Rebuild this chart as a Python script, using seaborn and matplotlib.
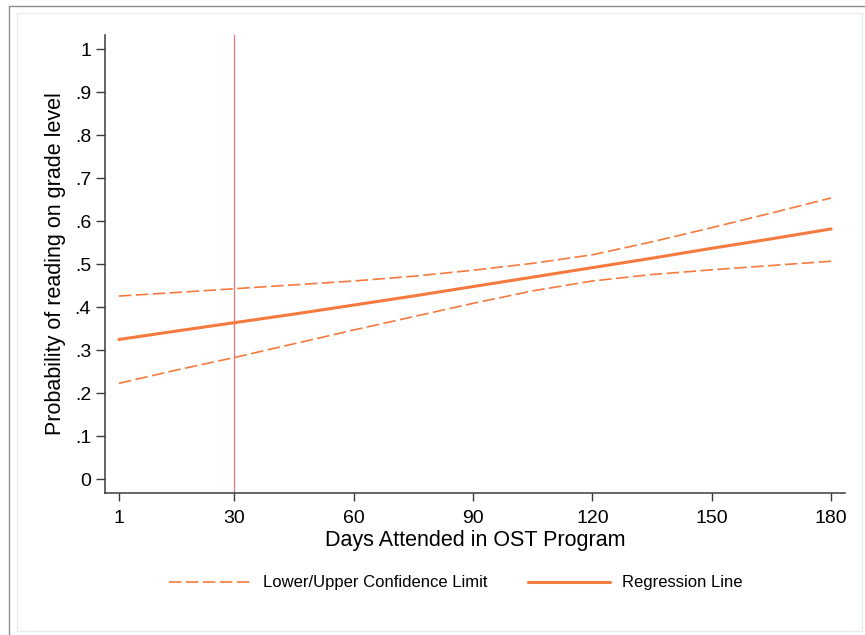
import pandas as pd
import seaborn as sns
import matplotlib.pyplot as plt
from matplotlib.lines import Line2D
from matplotlib.patches import Rectangle

# values
days = [1, 15, 30, 45, 60, 75, 90, 105, 120, 135, 150, 165, 180]
regression = [0.325, 0.344, 0.364, 0.384, 0.405, 0.426, 0.448, 0.470, 0.492, 0.514, 0.537, 0.559, 0.582]
upper_ci = [0.426, 0.434, 0.443, 0.452, 0.461, 0.472, 0.486, 0.502, 0.522, 0.552, 0.585, 0.619, 0.654]
lower_ci = [0.223, 0.253, 0.283, 0.315, 0.347, 0.378, 0.409, 0.438, 0.461, 0.476, 0.487, 0.497, 0.507]
cutoff_day = 30

x_ticks = [1, 30, 60, 90, 120, 150, 180]
y_ticks = [0, 0.1, 0.2, 0.3, 0.4, 0.5, 0.6, 0.7, 0.8, 0.9, 1.0]
y_tick_labels = ["0", ".1", ".2", ".3", ".4", ".5", ".6", ".7", ".8", ".9", "1"]

df = pd.DataFrame({"days": days, "reg": regression, "upper": upper_ci, "lower": lower_ci})

sns.set_style("white")
plt.rcParams['font.family'] = ['Liberation Sans', 'DejaVu Sans']
plt.rcParams['lines.scale_dashes'] = False
plt.rcParams['text.color'] = 'black'
plt.rcParams['axes.labelcolor'] = 'black'
plt.rcParams['xtick.color'] = 'black'
plt.rcParams['ytick.color'] = 'black'

orange = "#F57A3D"
axis_col = "#3a3a3a"
dash = (9, 3.2)

fig = plt.figure(figsize=(8.65, 6.35), dpi=100)
ax = fig.add_axes([105 / 865, 1 - 493 / 635, 740 / 865, 458 / 635])

sns.lineplot(data=df, x="days", y="upper", ax=ax, color=orange, lw=1.2, dashes=False)
sns.lineplot(data=df, x="days", y="lower", ax=ax, color=orange, lw=1.2, dashes=False)
for line in ax.get_lines():
    line.set_dashes(dash)
sns.lineplot(data=df, x="days", y="reg", ax=ax, color=orange, lw=2.2)
ax.axvline(cutoff_day, color="#E0707A", lw=0.9, zorder=1)

ax.set_xlim(-2.5, 183.5)
ax.set_ylim(-0.032, 1.033)
ax.set_xticks(x_ticks)
ax.set_yticks(y_ticks)
ax.set_yticklabels(y_tick_labels)
ax.tick_params(axis="x", labelsize=14, length=6, width=1, color=axis_col, pad=6.5, direction="out", bottom=True)
ax.tick_params(axis="y", labelsize=14, length=6.5, width=1, color=axis_col, pad=3.5, direction="out", left=True)

sns.despine(ax=ax)
for s in ["left", "bottom"]:
    ax.spines[s].set_color(axis_col)
    ax.spines[s].set_linewidth(1.1)

ax.set_xlabel("Days Attended in OST Program", fontsize=15.5, labelpad=2)
ax.set_ylabel("Probability of reading on grade level", fontsize=15.5, labelpad=6)

handles = [Line2D([], [], color=orange, lw=1.2, dashes=dash),
           Line2D([], [], color=orange, lw=2.2)]
fig.legend(handles, ["Lower/Upper Confidence Limit", "Regression Line"],
           loc="center", bbox_to_anchor=(456 / 865, 1 - 583 / 635), ncol=2,
           frameon=False, fontsize=12, handlelength=4.9, handletextpad=0.75,
           columnspacing=2.4, borderpad=0)

# outer frame, like the exported graph window
fig.add_artist(Line2D([9 / 865, 9 / 865, 1], [0, 1 - 6 / 635, 1 - 6 / 635],
                      transform=fig.transFigure, color="#8c8c8c", lw=1))
fig.add_artist(Rectangle((17 / 865, 1 - 631 / 635), 845 / 865, 618 / 635,
                         transform=fig.transFigure, fill=False, ec="#e6ecef", lw=1))

fig.savefig("out.png", dpi=100)
